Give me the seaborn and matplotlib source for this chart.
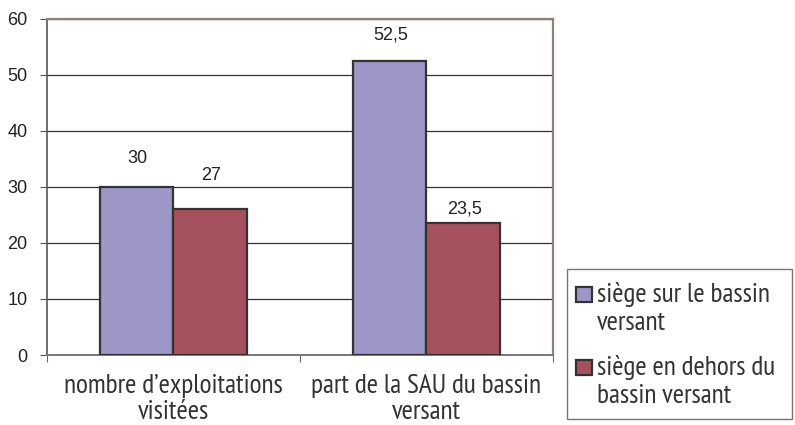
import matplotlib
matplotlib.use("Agg")
import matplotlib.pyplot as plt
import seaborn as sns
import pandas as pd
from matplotlib.patches import Rectangle
from matplotlib import font_manager as fm

# ---- data ----
categories = ["nombre d’exploitations\nvisitées", "part de la SAU du bassin\nversant"]
series = ["siège sur le bassin\nversant", "siège en dehors du\nbassin versant"]
values_sur = [30, 52.5]
values_dehors = [26, 23.5]
labels_sur = ["30", "52,5"]
labels_dehors = ["27", "23,5"]
yticks = [0, 10, 20, 30, 40, 50, 60]

# ---- style ----
colors = ["#9D97C8", "#A5515E"]
label_offsets_sur = [20.5, 18.5]      # points above bar top
label_offsets_dehors = [24.5, 10.5]
W, H = 795, 425

sns.set_theme(style="white")
plt.rcParams["font.family"] = ["Liberation Sans", "DejaVu Sans"]

installed = {f.name for f in fm.fontManager.ttflist}
narrow = [n for n in ["Ubuntu Condensed", "PT Sans Narrow", "Fira Sans Condensed", "Lato"]
          if n in installed] + ["DejaVu Sans"]

fig = plt.figure(figsize=(W / 100, H / 100), dpi=100)
renderer = fig.canvas.get_renderer()


def fit_size(text, target_px, base=15.0):
    t = fig.text(0, 0, text, fontsize=base, family=narrow)
    w = t.get_window_extent(renderer).width
    t.remove()
    return base * target_px / w


cat_size = fit_size("part de la SAU du bassin", 232)
leg_size = fit_size("siège sur le bassin", 175)

df = pd.DataFrame({
    "cat": categories * 2,
    "serie": [series[0]] * 2 + [series[1]] * 2,
    "val": values_sur + values_dehors,
})

ax = fig.add_axes([46.7 / W, 1 - 355 / H, (552.7 - 46.7) / W, (355 - 18.7) / H])

sns.barplot(data=df, x="cat", y="val", hue="serie", palette=colors, width=0.58,
            gap=0, edgecolor="#333333", linewidth=1.6, ax=ax, legend=False,
            zorder=3, saturation=1)

ax.set_xlim(-0.5, 1.5)
ax.set_ylim(0, 60)
ax.set_yticks(yticks)
ax.set_yticklabels([str(t) for t in yticks], fontsize=13, color="#222222")
ax.yaxis.grid(True, color="#333333", linewidth=0.9, zorder=0)
ax.xaxis.grid(False)
ax.set_axisbelow(True)
ax.tick_params(axis="y", length=5, width=0.8, color="#555555", pad=9, left=True)
ax.set_xticks([0, 1])
ax.set_xticklabels(categories, fontsize=cat_size, color="#333333", family=narrow,
                   linespacing=1.06)
ax.set_xticks([-0.5, 0.5, 1.5], minor=True)
ax.tick_params(axis="x", which="major", length=0, pad=14)
ax.tick_params(axis="x", which="minor", length=5, width=0.8, color="#666666", bottom=True)
ax.set_xlabel("")
ax.set_ylabel("")

for side in ["top", "right"]:
    ax.spines[side].set_visible(True)
    ax.spines[side].set_color("#8E817C")
    ax.spines[side].set_linewidth(1.6)
ax.spines["left"].set_color("#555555")
ax.spines["left"].set_linewidth(1.2)
ax.spines["bottom"].set_color("#777777")
ax.spines["bottom"].set_linewidth(1.4)

# value labels
bars = ax.patches
for b, txt, off in zip(bars[:2], labels_sur, label_offsets_sur):
    ax.annotate(txt, (b.get_x() + b.get_width() / 2, b.get_height()), xytext=(1, off),
                textcoords="offset points", ha="center", va="center", fontsize=13,
                color="#222222")
for b, txt, off in zip(bars[2:4], labels_dehors, label_offsets_dehors):
    ax.annotate(txt, (b.get_x() + b.get_width() / 2, b.get_height()), xytext=(1, off),
                textcoords="offset points", ha="center", va="center", fontsize=13,
                color="#222222")


# legend (drawn by hand so the marker sits on the first text line)
def fx(px):
    return px / W


def fy(py):
    return 1 - py / H


fig.add_artist(Rectangle((fx(567), fy(419)), fx(792) - fx(567), fy(269) - fy(419),
                         transform=fig.transFigure, facecolor="white",
                         edgecolor="#777777", linewidth=1.0))
entry_baselines = [302, 375]
for base, c, lab in zip(entry_baselines, colors, series):
    fig.add_artist(Rectangle((fx(576), fy(base)), fx(592) - fx(576), fy(base - 15) - fy(base),
                             transform=fig.transFigure, facecolor=c,
                             edgecolor="#333333", linewidth=1.6))
    fig.text(fx(597), fy(base), lab.split("\n")[0], ha="left", va="baseline", fontsize=leg_size,
             family=narrow, color="#333333")
    fig.text(fx(597), fy(base + 28), lab.split("\n")[1], ha="left", va="baseline", fontsize=leg_size,
             family=narrow, color="#333333")

fig.savefig("out.png", dpi=100)
